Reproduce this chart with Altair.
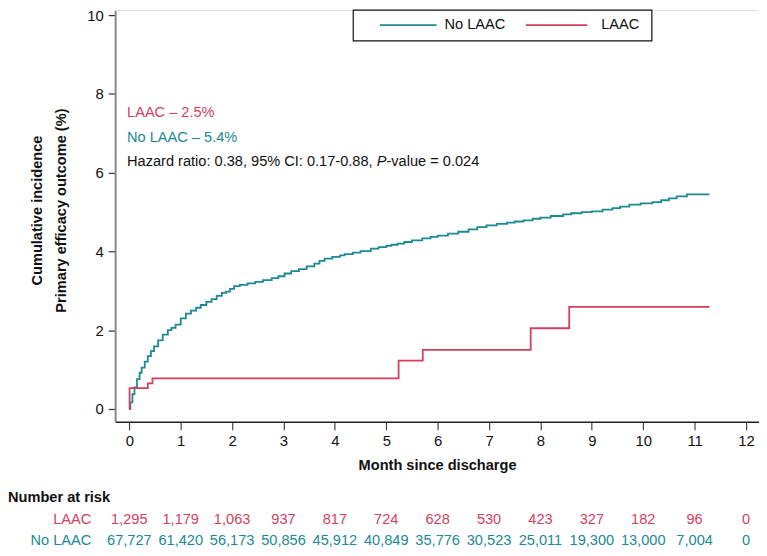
import altair as alt
import pandas as pd

# ---------------- data ----------------
nolaac_month = [0.00, 0.02, 0.06, 0.10, 0.15, 0.20, 0.24, 0.30, 0.36, 0.42, 0.48, 0.56, 0.65, 0.75,
                0.82, 0.90, 1.00, 1.10, 1.20, 1.30, 1.39, 1.50, 1.60, 1.70, 1.80, 1.88, 1.96, 2.04,
                2.15, 2.30, 2.45, 2.60, 2.77, 2.90, 3.02, 3.15, 3.30, 3.45, 3.60, 3.70, 3.80, 3.95,
                4.10, 4.19, 4.35, 4.50, 4.70, 4.85, 5.00, 5.10, 5.22, 5.35, 5.50, 5.70, 5.86, 6.00,
                6.20, 6.40, 6.60, 6.77, 6.95, 7.15, 7.35, 7.50, 7.67, 7.85, 8.00, 8.20, 8.44, 8.60,
                8.80, 9.00, 9.21, 9.40, 9.55, 9.73, 9.95, 10.18, 10.35, 10.50, 10.65, 10.85, 11.29]
nolaac_cum = [0.00, 0.17, 0.38, 0.55, 0.76, 0.92, 1.05, 1.20, 1.34, 1.47, 1.59, 1.74, 1.89, 2.00,
              2.06, 2.14, 2.30, 2.42, 2.50, 2.57, 2.64, 2.72, 2.79, 2.87, 2.95, 2.98, 3.05, 3.12,
              3.15, 3.19, 3.23, 3.27, 3.32, 3.37, 3.44, 3.50, 3.55, 3.62, 3.69, 3.76, 3.82, 3.86,
              3.90, 3.93, 3.97, 4.01, 4.07, 4.11, 4.14, 4.17, 4.20, 4.24, 4.28, 4.33, 4.37, 4.40,
              4.45, 4.50, 4.56, 4.62, 4.66, 4.70, 4.73, 4.76, 4.79, 4.83, 4.86, 4.90, 4.94, 4.97,
              5.00, 5.02, 5.06, 5.10, 5.14, 5.19, 5.22, 5.25, 5.30, 5.35, 5.40, 5.45, 5.45]

laac_month = [0.00, 0.005, 0.36, 0.45, 5.24, 5.71, 7.81, 8.56, 11.29]
laac_cum = [0.00, 0.53, 0.65, 0.78, 1.23, 1.50, 2.05, 2.59, 2.59]

risk_month = [0, 1, 2, 3, 4, 5, 6, 7, 8, 9, 10, 11, 12]
risk_laac = [1295, 1179, 1063, 937, 817, 724, 628, 530, 423, 327, 182, 96, 0]
risk_nolaac = [67727, 61420, 56173, 50856, 45912, 40849, 35776, 30523, 25011, 19300, 13000, 7004, 0]

groups = ["No LAAC", "LAAC"]
TEAL = "#1B8A93"
RED = "#D43F5E"
FONT = "Liberation Sans"
FS = 14.7

curves = pd.concat([
    pd.DataFrame({"month": nolaac_month, "cum": nolaac_cum, "group": "No LAAC"}),
    pd.DataFrame({"month": laac_month, "cum": laac_cum, "group": "LAAC"}),
])
risk = pd.DataFrame({"month": risk_month, "laac": risk_laac, "nolaac": risk_nolaac})

W, H = 649, 415
xscale = alt.Scale(domain=[-0.276, 12.253], nice=False, zero=False)
yscale = alt.Scale(domain=[-0.327, 10.126], nice=False, zero=False)

x_enc = alt.X("month:Q", scale=xscale,
              axis=alt.Axis(values=risk_month, title="Month since discharge", grid=False,
                            domainColor="#222222", domainWidth=1.5, tickColor="#444444",
                            tickSize=8, tickWidth=1.2, labelFontSize=15, labelColor="#111111",
                            labelFont=FONT, labelPadding=4, titleFont=FONT, titleFontSize=FS,
                            titleFontWeight="bold", titleColor="#111111", titlePadding=9))
y_enc = alt.Y("cum:Q", scale=yscale,
              axis=alt.Axis(values=[0, 2, 4, 6, 8, 10], title=None, grid=False,
                            domainColor="#888888", domainWidth=2, tickColor="#333333",
                            tickSize=7, tickWidth=1.2, labelFontSize=15, labelColor="#111111",
                            labelFont=FONT, labelPadding=5))

lines = alt.Chart(curves).mark_line(interpolate="step-after", strokeWidth=1.8).encode(
    x=x_enc, y=y_enc,
    color=alt.Color("group:N", scale=alt.Scale(domain=groups, range=[TEAL, RED]), legend=None),
    detail="group:N",
)

def txt(s, x, y, color="#111111", weight="normal", style="normal", align="left", angle=0, size=FS):
    return alt.Chart(pd.DataFrame({"t": [s]})).mark_text(
        font=FONT, fontSize=size, fontWeight=weight, fontStyle=style, color=color,
        align=align, baseline="middle", angle=angle
    ).encode(text="t:N", x=alt.value(x), y=alt.value(y))

annots = [
    txt("LAAC \u2013 2.5%", 12, 104, RED),
    txt("No LAAC \u2013 5.4%", 12, 129, TEAL),
    txt("Hazard ratio: 0.38, 95% CI: 0.17-0.88, ", 12, 153),
    txt("P", 263.7, 153, style="italic"),
    txt("-value = 0.024", 273.5, 153),
    txt("Cumulative incidence", -78, 202, weight="bold", align="center", angle=270),
    txt("Primary efficacy outcome (%)", -54, 202, weight="bold", align="center", angle=270),
    txt("Number at risk", -108, 492, weight="bold"),
    txt("LAAC", -24, 514, RED, align="right"),
    txt("No LAAC", -24, 535, TEAL, align="right"),
    txt("No LAAC", 332, 15),
    txt("LAAC", 490, 15),
]

legend_box = alt.Chart(pd.DataFrame({"a": [0]})).mark_rect(
    fill="white", stroke="#111111", strokeWidth=1.2
).encode(x=alt.value(240), x2=alt.value(541), y=alt.value(0), y2=alt.value(31))
leg_teal = alt.Chart(pd.DataFrame({"a": [0]})).mark_rule(color=TEAL, strokeWidth=1.8).encode(
    x=alt.value(267), x2=alt.value(324), y=alt.value(15))
leg_red = alt.Chart(pd.DataFrame({"a": [0]})).mark_rule(color=RED, strokeWidth=1.8).encode(
    x=alt.value(414), x2=alt.value(476), y=alt.value(15))

risk_laac_txt = alt.Chart(risk).mark_text(font=FONT, fontSize=FS, color=RED, baseline="middle").encode(
    x=alt.X("month:Q", scale=xscale), y=alt.value(514), text=alt.Text("laac:Q", format=","))
risk_nolaac_txt = alt.Chart(risk).mark_text(font=FONT, fontSize=FS, color=TEAL, baseline="middle").encode(
    x=alt.X("month:Q", scale=xscale), y=alt.value(535), text=alt.Text("nolaac:Q", format=","))

chart = alt.layer(
    lines, legend_box, leg_teal, leg_red, risk_laac_txt, risk_nolaac_txt, *annots
).properties(
    width=W, height=H,
    autosize=alt.AutoSizeParams(type="none"),
    padding={"left": 108, "top": 0, "right": 0, "bottom": 130},
).configure_view(strokeWidth=0).configure(background="white")

chart.save("out.html", embed_options={"renderer": "svg", "actions": False})
